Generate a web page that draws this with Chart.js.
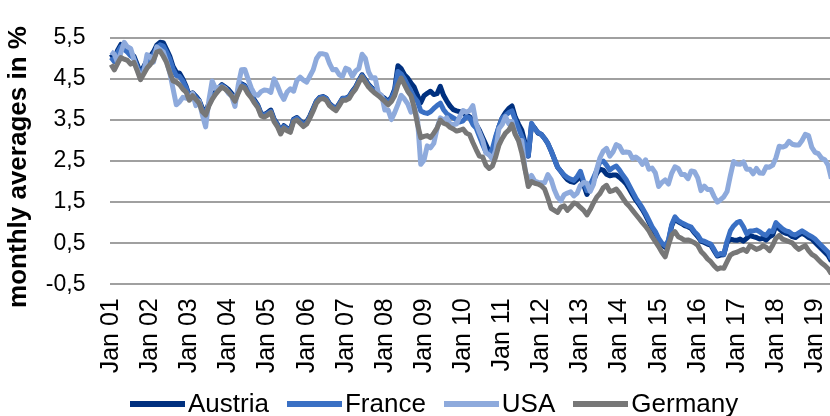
<!DOCTYPE html>
<html>
<head>
<meta charset="utf-8">
<script src="https://cdn.jsdelivr.net/npm/chart.js@4.4.0/dist/chart.umd.min.js"></script>
<style>
  html, body { margin: 0; padding: 0; background: #fff; overflow: hidden; }
  #wrap { position: relative; width: 834px; height: 416px; }
  #legend { position: absolute; top: 388px; left: 130px; display: flex; align-items: center;
            font-family: "Liberation Sans", Arial, sans-serif; font-size: 26px; color: #000; white-space: nowrap; }
  .item { display: flex; align-items: center; margin-right: 18px; }
  .swatch { width: 55px; height: 6px; margin-right: 3px; }
</style>
</head>
<body>
<div id="wrap">
  <canvas id="chart" width="834" height="416"></canvas>
  <div id="legend"></div>
</div>
<script>
// monthly values, Jan 2001 .. Jun 2019 (one row per year)
const austria = [
  5.10, 4.98, 5.20, 5.34, 5.25, 5.18, 5.11, 5.05, 4.85, 4.64, 4.80, 4.95,
  5.05, 5.16, 5.32, 5.39, 5.38, 5.22, 5.05, 4.80, 4.66, 4.64, 4.50, 4.32,
  4.08, 4.16, 4.08, 3.98, 3.78, 3.70, 3.90, 4.06, 4.18, 4.28, 4.36, 4.30,
  4.24, 4.14, 4.02, 4.20, 4.38, 4.34, 4.20, 4.10, 3.98, 3.86, 3.66, 3.63,
  3.68, 3.74, 3.52, 3.40, 3.22, 3.36, 3.30, 3.26, 3.52, 3.56, 3.48, 3.40,
  3.46, 3.60, 3.78, 3.96, 4.05, 4.07, 4.03, 3.90, 3.83, 3.78, 3.90, 4.03,
  4.03, 4.07, 4.20, 4.30, 4.46, 4.60, 4.48, 4.36, 4.28, 4.21, 4.15, 4.08,
  4.02, 3.95, 4.05, 4.25, 4.82, 4.75, 4.60, 4.52, 4.40, 4.30, 4.10, 3.92,
  4.09, 4.15, 4.20, 4.12, 4.14, 4.32, 4.10, 3.96, 3.84, 3.75, 3.72, 3.70,
  3.66, 3.62, 3.58, 3.50, 3.39, 3.25, 3.07, 2.90, 2.73, 2.70, 3.05, 3.34,
  3.55, 3.68, 3.78, 3.84, 3.57, 3.40, 3.25, 2.95, 2.62, 3.39, 3.30, 3.18,
  3.15, 3.05, 2.93, 2.75, 2.55, 2.35, 2.25, 2.14, 2.05, 2.00, 1.98, 2.05,
  2.15, 1.92, 1.69, 1.82, 2.02, 2.20, 2.30, 2.28, 2.18, 2.14, 2.16, 2.16,
  2.10, 2.03, 1.95, 1.82, 1.68, 1.55, 1.44, 1.32, 1.18, 1.02, 0.86, 0.74,
  0.58, 0.46, 0.40, 0.54, 0.92, 1.10, 1.02, 0.98, 0.93, 0.90, 0.86, 0.75,
  0.66, 0.55, 0.52, 0.48, 0.45, 0.32, 0.19, 0.21, 0.22, 0.52, 0.60, 0.58,
  0.57, 0.60, 0.55, 0.62, 0.69, 0.66, 0.64, 0.60, 0.62, 0.58, 0.66, 0.70,
  0.94, 0.85, 0.78, 0.74, 0.72, 0.66, 0.64, 0.70, 0.74, 0.70, 0.64, 0.60,
  0.52, 0.44, 0.36, 0.28, 0.20, 0.06
];
const france = [
  5.02, 4.92, 5.15, 5.28, 5.22, 5.15, 5.06, 5.00, 4.80, 4.60, 4.75, 4.90,
  5.00, 5.10, 5.26, 5.33, 5.30, 5.15, 4.98, 4.74, 4.58, 4.56, 4.45, 4.28,
  4.05, 4.13, 4.05, 3.95, 3.75, 3.67, 3.87, 4.04, 4.15, 4.25, 4.34, 4.28,
  4.20, 4.10, 3.98, 4.18, 4.36, 4.32, 4.18, 4.08, 3.95, 3.84, 3.64, 3.61,
  3.66, 3.71, 3.50, 3.38, 3.20, 3.34, 3.28, 3.24, 3.50, 3.54, 3.46, 3.38,
  3.44, 3.58, 3.76, 3.95, 4.04, 4.06, 4.02, 3.88, 3.82, 3.76, 3.88, 4.02,
  4.02, 4.06, 4.18, 4.28, 4.45, 4.58, 4.46, 4.34, 4.26, 4.20, 4.14, 4.06,
  4.00, 3.92, 4.02, 4.20, 4.68, 4.62, 4.50, 4.35, 4.20, 4.05, 3.95, 3.72,
  3.68, 3.66, 3.70, 3.78, 3.85, 3.91, 3.75, 3.65, 3.60, 3.55, 3.50, 3.45,
  3.48, 3.58, 3.55, 3.39, 3.30, 3.10, 2.90, 2.72, 2.66, 2.80, 3.10, 3.34,
  3.55, 3.61, 3.68, 3.72, 3.50, 3.30, 3.10, 2.90, 2.63, 3.42, 3.28, 3.20,
  3.15, 3.05, 2.93, 2.75, 2.55, 2.35, 2.25, 2.16, 2.10, 2.06, 2.03, 2.12,
  2.25, 2.00, 1.78, 1.92, 2.09, 2.28, 2.48, 2.50, 2.40, 2.28, 2.34, 2.38,
  2.28, 2.16, 2.05, 1.90, 1.75, 1.60, 1.48, 1.36, 1.22, 1.06, 0.90, 0.78,
  0.62, 0.50, 0.44, 0.57, 0.95, 1.14, 1.05, 1.00, 0.96, 0.92, 0.89, 0.78,
  0.70, 0.57, 0.55, 0.51, 0.48, 0.35, 0.21, 0.25, 0.23, 0.55, 0.80, 0.92,
  1.00, 1.03, 0.90, 0.73, 0.80, 0.80, 0.82, 0.78, 0.72, 0.69, 0.80, 0.78,
  1.00, 0.92, 0.85, 0.80, 0.78, 0.72, 0.70, 0.75, 0.80, 0.75, 0.70, 0.66,
  0.60, 0.52, 0.44, 0.36, 0.28, 0.12
];
const usa = [
  5.16, 5.10, 4.89, 5.14, 5.39, 5.28, 5.24, 4.97, 4.73, 4.57, 4.65, 5.09,
  5.04, 4.91, 5.28, 5.21, 5.16, 4.93, 4.65, 4.26, 3.87, 3.94, 4.05, 4.03,
  4.02, 4.15, 3.85, 3.96, 3.62, 3.33, 3.98, 4.45, 4.27, 4.29, 4.30, 4.27,
  4.15, 4.08, 3.83, 4.35, 4.72, 4.73, 4.50, 4.28, 4.13, 4.10, 4.19, 4.23,
  4.22, 4.17, 4.50, 4.34, 4.14, 4.00, 4.18, 4.26, 4.20, 4.46, 4.54, 4.47,
  4.42, 4.57, 4.72, 4.99, 5.11, 5.11, 5.09, 4.88, 4.72, 4.73, 4.60, 4.56,
  4.76, 4.72, 4.56, 4.69, 4.75, 5.10, 5.00, 4.67, 4.52, 4.53, 4.15, 4.10,
  3.74, 3.74, 3.51, 3.68, 3.88, 4.10, 4.01, 3.89, 3.69, 3.81, 3.53, 2.42,
  2.52, 2.87, 2.82, 2.93, 3.29, 3.55, 3.50, 3.55, 3.40, 3.39, 3.40, 3.59,
  3.73, 3.69, 3.73, 3.85, 3.42, 3.20, 3.01, 2.70, 2.65, 2.54, 2.76, 3.29,
  3.39, 3.58, 3.41, 3.46, 3.17, 3.00, 3.00, 2.30, 1.98, 2.15, 2.01, 1.98,
  1.97, 1.97, 2.17, 2.05, 1.80, 1.62, 1.53, 1.68, 1.72, 1.75, 1.65, 1.72,
  1.91, 1.98, 1.96, 1.76, 1.93, 2.30, 2.58, 2.74, 2.81, 2.62, 2.72, 2.90,
  2.86, 2.71, 2.72, 2.71, 2.56, 2.60, 2.54, 2.42, 2.53, 2.30, 2.33, 2.21,
  1.88, 1.98, 2.04, 1.94, 2.20, 2.36, 2.32, 2.17, 2.17, 2.07, 2.26, 2.24,
  2.09, 1.78, 1.89, 1.81, 1.81, 1.64, 1.50, 1.56, 1.63, 1.76, 2.14, 2.49,
  2.43, 2.42, 2.48, 2.30, 2.30, 2.19, 2.32, 2.21, 2.20, 2.36, 2.35, 2.40,
  2.58, 2.86, 2.84, 2.87, 2.98, 2.91, 2.89, 2.89, 3.00, 3.15, 3.12, 2.83,
  2.71, 2.68, 2.57, 2.53, 2.40, 2.07
];
const germany = [
  4.85, 4.72, 4.88, 5.02, 4.98, 4.95, 4.86, 4.90, 4.70, 4.48, 4.62, 4.76,
  4.85, 4.95, 5.15, 5.18, 5.05, 4.90, 4.66, 4.45, 4.42, 4.36, 4.25, 4.18,
  3.98, 4.09, 4.00, 3.91, 3.70, 3.62, 3.84, 4.00, 4.12, 4.22, 4.30, 4.25,
  4.18, 4.08, 3.96, 4.15, 4.32, 4.28, 4.14, 4.04, 3.91, 3.80, 3.60, 3.57,
  3.62, 3.68, 3.46, 3.34, 3.16, 3.30, 3.24, 3.20, 3.46, 3.50, 3.42, 3.34,
  3.40, 3.55, 3.72, 3.91, 4.00, 4.02, 3.98, 3.85, 3.78, 3.73, 3.85, 3.98,
  3.98, 4.02, 4.15, 4.25, 4.41, 4.55, 4.42, 4.30, 4.22, 4.15, 4.09, 4.02,
  3.95, 3.87, 3.95, 4.09, 4.35, 4.52, 4.36, 4.20, 4.09, 3.80, 3.40, 3.07,
  3.10, 3.12, 3.07, 3.18, 3.30, 3.50, 3.42, 3.39, 3.32, 3.28, 3.23, 3.25,
  3.28, 3.18, 3.14, 2.95, 2.78, 2.62, 2.60, 2.40, 2.32, 2.38, 2.60, 2.89,
  3.05, 3.18, 3.25, 3.39, 3.15, 3.00, 2.70, 2.30, 1.88, 2.00, 1.96, 1.94,
  1.90, 1.82, 1.60, 1.35, 1.30, 1.25, 1.38, 1.41, 1.30, 1.38, 1.48, 1.45,
  1.37, 1.30, 1.19, 1.32, 1.48, 1.62, 1.71, 1.85, 1.91, 1.76, 1.78, 1.82,
  1.72, 1.60, 1.48, 1.40, 1.30, 1.20, 1.10, 1.00, 0.91, 0.80, 0.66, 0.54,
  0.42, 0.28, 0.17, 0.45, 0.70, 0.78, 0.66, 0.62, 0.57, 0.58, 0.55, 0.51,
  0.45, 0.30, 0.22, 0.12, 0.05, -0.05, -0.13, -0.10, -0.11, 0.05, 0.21, 0.26,
  0.28, 0.32, 0.35, 0.30, 0.44, 0.40, 0.35, 0.38, 0.44, 0.40, 0.32, 0.45,
  0.62, 0.69, 0.60, 0.57, 0.54, 0.51, 0.42, 0.35, 0.40, 0.44, 0.32, 0.23,
  0.18, 0.10, 0.02, -0.04, -0.12, -0.25
];

const seriesNames = ['Austria', 'France', 'USA', 'Germany'];
const seriesColors = ['#00307f', '#3a70c4', '#8eaadc', '#777777'];
const seriesData = [austria, france, usa, germany];
const monthNames = ['Jan','Feb','Mar','Apr','May','Jun','Jul','Aug','Sep','Oct','Nov','Dec'];
const yTicks = [-0.5, 0.5, 1.5, 2.5, 3.5, 4.5, 5.5];

const labels = [];
for (let i = 0; i < austria.length; i++) {
  const yy = String(1 + Math.floor(i / 12)).padStart(2, '0');
  labels.push(monthNames[i % 12] + ' ' + yy);
}

const font = '"Liberation Sans", Arial, sans-serif';

const yTitle = {
  id: 'yTitle',
  afterDraw(chart) {
    const c = chart.ctx;
    c.save();
    c.translate(19, 167);
    c.rotate(-Math.PI / 2);
    c.font = 'bold 26px ' + font;
    c.fillStyle = '#000';
    c.textAlign = 'center';
    c.textBaseline = 'middle';
    c.fillText('monthly averages in %', 0, 0);
    c.restore();
  }
};

new Chart(document.getElementById('chart'), {
  type: 'line',
  data: {
    labels: labels,
    datasets: seriesNames.map((name, k) => ({
      label: name,
      data: seriesData[k],
      borderColor: seriesColors[k],
      borderWidth: 5,
      order: 4 - k,
      fill: false
    }))
  },
  options: {
    responsive: false,
    animation: false,
    layout: { padding: { top: 20, right: 1, left: 0, bottom: 0 } },
    plugins: { legend: { display: false }, tooltip: { enabled: false } },
    elements: {
      point: { radius: 0 },
      line: { tension: 0, borderJoinStyle: 'round', borderCapStyle: 'butt' }
    },
    scales: {
      x: {
        offset: true,
        grid: { display: false },
        border: { display: false },
        ticks: {
          autoSkip: false, maxRotation: 90, minRotation: 90, padding: 6,
          color: '#000', font: { family: font, size: 25 },
          callback: function (v) {
            const l = this.getLabelForValue(v);
            return l.startsWith('Jan') ? l : null;
          }
        },
        afterFit: s => { s.height = 131.7; s.paddingLeft = 0; s.paddingRight = 0; }
      },
      y: {
        min: -0.5, max: 5.5,
        afterBuildTicks: s => { s.ticks = yTicks.map(v => ({ value: v })); },
        ticks: {
          padding: 24, color: '#000', font: { family: font, size: 23 },
          callback: v => v.toFixed(1).replace('.', ',')
        },
        grid: { color: '#a0a0a0', lineWidth: 2, drawTicks: false },
        border: { display: false },
        afterFit: s => { s.width = 109.5; }
      }
    }
  },
  plugins: [yTitle]
});

const legend = document.getElementById('legend');
seriesNames.forEach((name, k) => {
  const item = document.createElement('div');
  item.className = 'item';
  item.innerHTML = `<span class="swatch" style="background:${seriesColors[k]}"></span><span>${name}</span>`;
  legend.appendChild(item);
});
</script>
</body>
</html>
